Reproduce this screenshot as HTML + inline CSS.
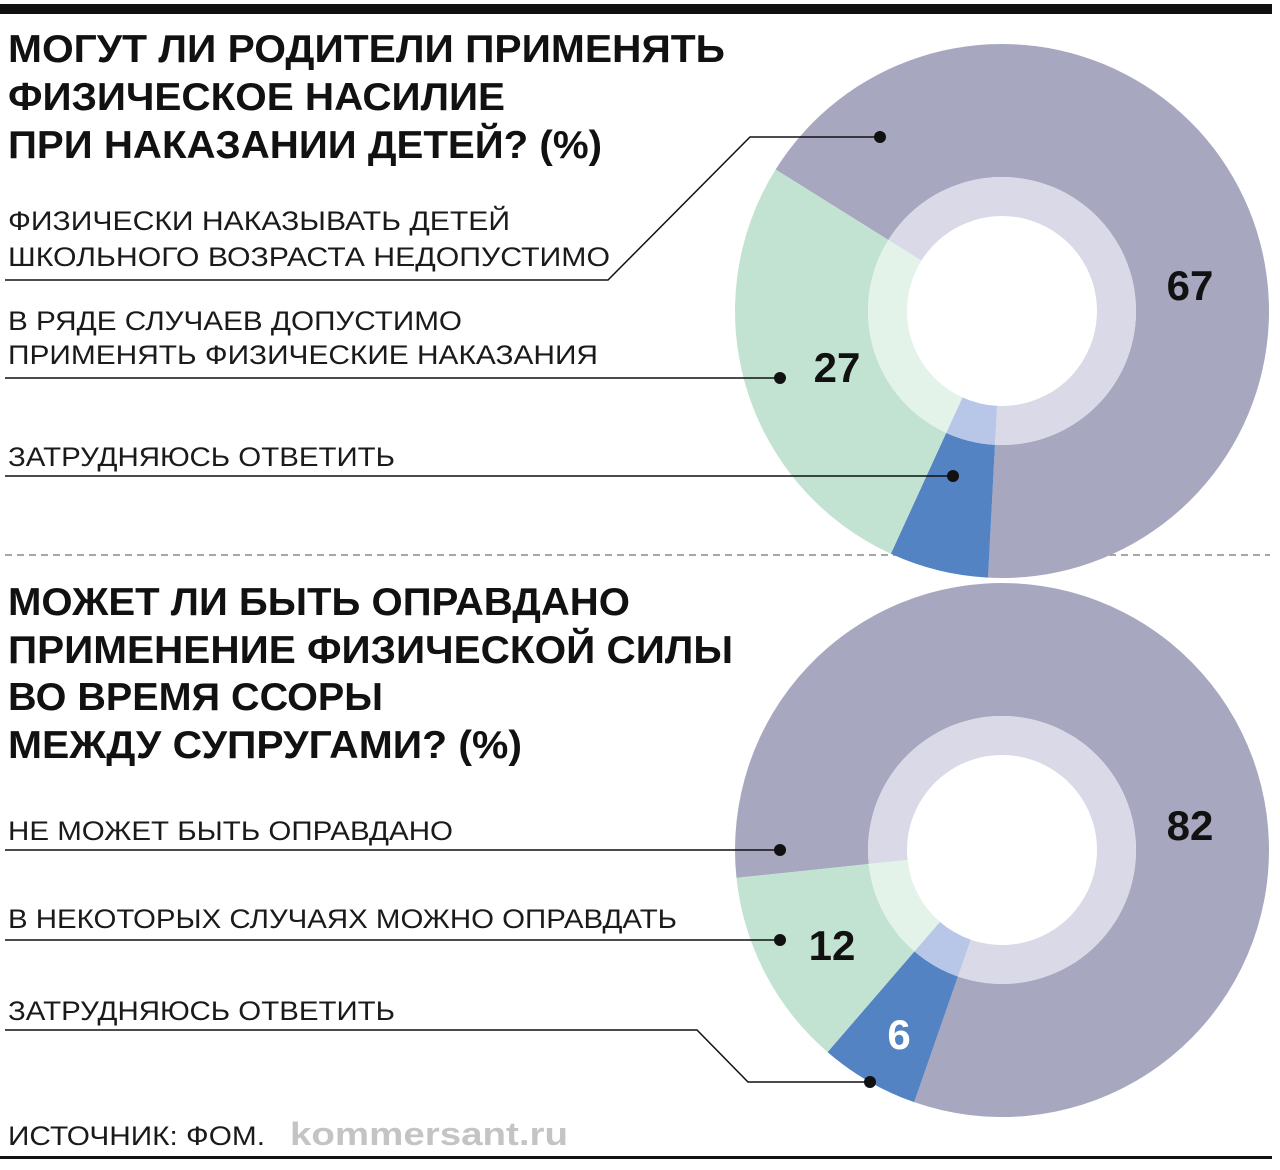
<!DOCTYPE html>
<html><head><meta charset="utf-8">
<style>
html,body{margin:0;padding:0;background:#fff;}
svg{display:block;}
text{font-family:"Liberation Sans",Arial,sans-serif;}
.t{font-weight:bold;font-size:39px;fill:#111;}
.l{font-size:27px;fill:#1a1a1a;}
.n{font-weight:bold;font-size:42px;fill:#111;}
</style></head><body>
<svg id="s" width="1280" height="1170" viewBox="0 0 1280 1170" xmlns="http://www.w3.org/2000/svg">
<rect x="0" y="4" width="1272" height="10" fill="#111"/>
<rect x="0" y="1156" width="1272" height="3" fill="#111"/>
<line x1="5" y1="555" x2="1270" y2="555" stroke="#888" stroke-width="1.5" stroke-dasharray="7,5"/>
<g id="d1"></g><g id="d2"></g>
<text class="t" x="8" y="62" textLength="717" lengthAdjust="spacingAndGlyphs">МОГУТ ЛИ РОДИТЕЛИ ПРИМЕНЯТЬ</text>
<text class="t" x="8" y="110" textLength="497" lengthAdjust="spacingAndGlyphs">ФИЗИЧЕСКОЕ НАСИЛИЕ</text>
<text class="t" x="8" y="158" textLength="594" lengthAdjust="spacingAndGlyphs">ПРИ НАКАЗАНИИ ДЕТЕЙ? (%)</text>
<text class="l" x="8" y="230" textLength="502" lengthAdjust="spacingAndGlyphs">ФИЗИЧЕСКИ НАКАЗЫВАТЬ ДЕТЕЙ</text>
<text class="l" x="8" y="266" textLength="602" lengthAdjust="spacingAndGlyphs">ШКОЛЬНОГО ВОЗРАСТА НЕДОПУСТИМО</text>
<text class="l" x="8" y="330" textLength="454" lengthAdjust="spacingAndGlyphs">В РЯДЕ СЛУЧАЕВ ДОПУСТИМО</text>
<text class="l" x="8" y="364" textLength="590" lengthAdjust="spacingAndGlyphs">ПРИМЕНЯТЬ ФИЗИЧЕСКИЕ НАКАЗАНИЯ</text>
<text class="l" x="8" y="466" textLength="387" lengthAdjust="spacingAndGlyphs">ЗАТРУДНЯЮСЬ ОТВЕТИТЬ</text>
<text class="t" x="8" y="615" textLength="622" lengthAdjust="spacingAndGlyphs">МОЖЕТ ЛИ БЫТЬ ОПРАВДАНО</text>
<text class="t" x="8" y="663" textLength="725" lengthAdjust="spacingAndGlyphs">ПРИМЕНЕНИЕ ФИЗИЧЕСКОЙ СИЛЫ</text>
<text class="t" x="8" y="710" textLength="375" lengthAdjust="spacingAndGlyphs">ВО ВРЕМЯ ССОРЫ</text>
<text class="t" x="8" y="758" textLength="514" lengthAdjust="spacingAndGlyphs">МЕЖДУ СУПРУГАМИ? (%)</text>
<text class="l" x="8" y="840" textLength="445" lengthAdjust="spacingAndGlyphs">НЕ МОЖЕТ БЫТЬ ОПРАВДАНО</text>
<text class="l" x="8" y="928" textLength="669" lengthAdjust="spacingAndGlyphs">В НЕКОТОРЫХ СЛУЧАЯХ МОЖНО ОПРАВДАТЬ</text>
<text class="l" x="8" y="1020" textLength="387" lengthAdjust="spacingAndGlyphs">ЗАТРУДНЯЮСЬ ОТВЕТИТЬ</text>
<text class="l" x="8" y="1145" textLength="257" lengthAdjust="spacingAndGlyphs">ИСТОЧНИК: ФОМ.</text>
<text x="290" y="1145" font-size="32" font-weight="bold" fill="#c4c4c4" textLength="278" lengthAdjust="spacingAndGlyphs">kommersant.ru</text>
<g stroke="#111" stroke-width="1.5" fill="none">
<polyline points="5,280 608,280 750,137 880,137"/>
<polyline points="5,378 780,378"/>
<polyline points="5,476 953,476"/>
<polyline points="5,850 780,850"/>
<polyline points="5,940 780,940"/>
<polyline points="5,1030 697,1030 748,1082 870,1082"/>
</g>
<g fill="#111">
<circle cx="880" cy="137" r="6"/><circle cx="780" cy="378" r="6"/><circle cx="953" cy="476" r="6"/>
<circle cx="780" cy="850" r="6"/><circle cx="780" cy="940" r="6"/><circle cx="870" cy="1082" r="6"/>
</g>
<text class="n" x="1190" y="300" text-anchor="middle" font-size="44">67</text>
<text class="n" x="837" y="382" text-anchor="middle" font-size="38">27</text>
<text class="n" x="1190" y="840" text-anchor="middle" font-size="44">82</text>
<text class="n" x="832" y="960" text-anchor="middle" font-size="38">12</text>
<text class="n" x="899" y="1049" text-anchor="middle" font-size="36" style="fill:#fff">6</text>
</svg>
<script>
function arc(cx,cy,r0,r1,a0,a1){
 function p(r,a){var t=a*Math.PI/180;return [cx+r*Math.sin(t),cy-r*Math.cos(t)];}
 var large=(a1-a0)>180?1:0;
 var A=p(r1,a0),B=p(r1,a1),C=p(r0,a1),D=p(r0,a0);
 return "M"+A+" A"+r1+","+r1+" 0 "+large+" 1 "+B+" L"+C+" A"+r0+","+r0+" 0 "+large+" 0 "+D+"Z";
}
function donut(id,cx,cy,segs){
 var g=document.getElementById(id),h="";
 segs.forEach(function(s){
  h+='<path d="'+arc(cx,cy,134,267,s[0],s[1])+'" fill="'+s[2]+'"/>';
  h+='<path d="'+arc(cx,cy,95,134,s[0],s[1])+'" fill="'+s[3]+'"/>';
 });
 g.innerHTML=h;
}
var P=["#a7a7bf","#d9d9e7"],G=["#c3e3d2","#e3f3ea"],B=["#5383c3","#b8c6e8"];
donut("d1",1002,311,[[302,543,P[0],P[1]],[183,204.6,B[0],B[1]],[204.6,302,G[0],G[1]]]);
donut("d2",1002,850,[[264,559.2,P[0],P[1]],[199.2,220.8,B[0],B[1]],[220.8,264,G[0],G[1]]]);
</script>
</body></html>
